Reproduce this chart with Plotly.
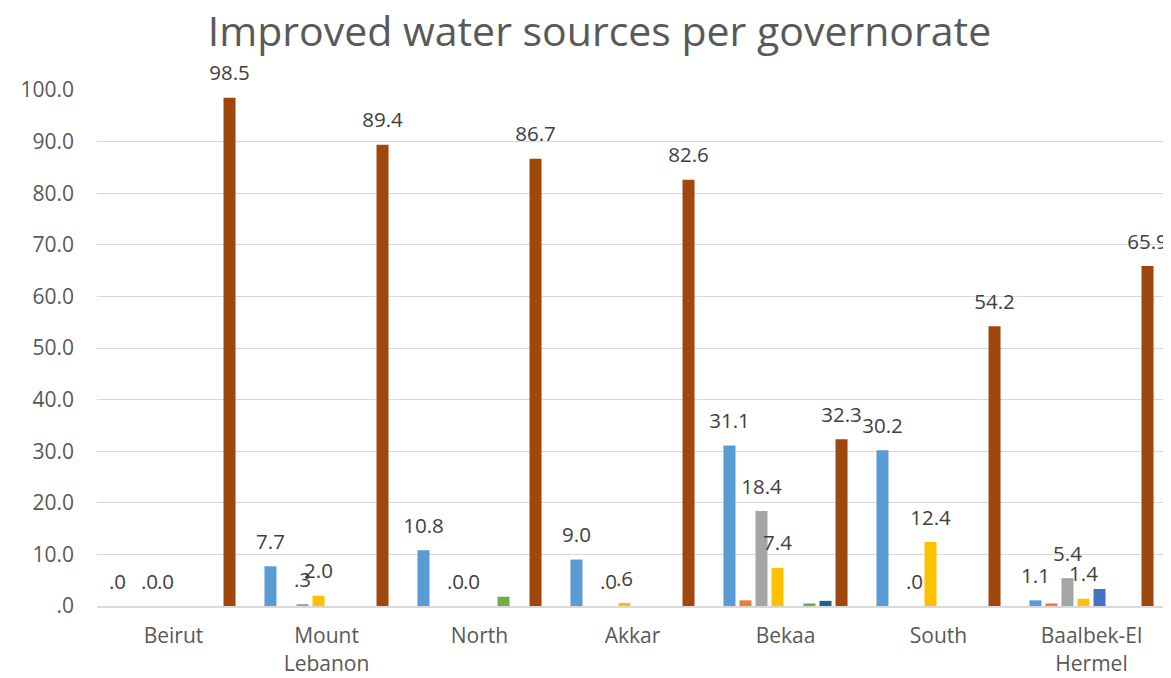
import plotly.graph_objects as go

governorates = ["Beirut", "Mount<br>Lebanon", "North", "Akkar", "Bekaa", "South", "Baalbek-El<br>Hermel"]

series_names = ["Source 1", "Source 2", "Source 3", "Source 4", "Source 5", "Source 6", "Source 7", "Source 8"]
s1 = [0.0, 7.7, 10.8, 9.0, 31.1, 30.2, 1.1]
s2 = [None, None, None, None, 1.1, None, 0.5]
s3 = [0.0, 0.3, 0.0, 0.0, 18.4, 0.0, 5.4]
s4 = [0.0, 2.0, 0.0, 0.6, 7.4, 12.4, 1.4]
s5 = [None, None, None, None, None, None, 3.3]
s6 = [None, None, 1.8, None, 0.5, None, None]
s7 = [None, None, None, None, 1.0, None, None]
s8 = [98.5, 89.4, 86.7, 82.6, 32.3, 54.2, 65.9]

series = [s1, s2, s3, s4, s5, s6, s7, s8]
labeled = [True, False, True, True, False, False, False, True]
colors = ["#5B9BD5", "#ED7D31", "#A5A5A5", "#FFC000", "#4472C4", "#70AD47", "#255E91", "#9E480E"]

FONT = "Open Sans"
BARGAP = 0.163


def fmt(v):
    if v is None:
        return None
    s = f"{v:.1f}"
    if s.startswith("0"):
        s = s[1:]
    return s


fig = go.Figure()
for i, (name, vals, col) in enumerate(zip(series_names, series, colors)):
    fig.add_trace(go.Bar(
        x=governorates, y=vals, name=name,
        marker=dict(color=col, line=dict(width=0)),
        offsetgroup=str(i),
        hoverinfo="x+y+name",
    ))

# data labels drawn as grouped scatter text so they sit over each bar
for i, (name, vals, lab) in enumerate(zip(series_names, series, labeled)):
    fig.add_trace(go.Scatter(
        x=governorates, y=vals, name=name,
        mode="markers+text",
        marker=dict(size=18, opacity=0, color="white"),
        text=[fmt(v) for v in vals] if lab else None,
        textposition="top center",
        textfont=dict(size=20.5, color="#404040", family=FONT),
        offsetgroup=str(i),
        cliponaxis=False,
        hoverinfo="skip",
    ))

tickvals = list(range(0, 101, 10))
ticktext = [fmt(float(t)) for t in tickvals]

fig.update_layout(
    width=1163, height=670,
    barmode="group", bargap=BARGAP, bargroupgap=0.25,
    scattermode="group", scattergap=BARGAP,
    plot_bgcolor="white", paper_bgcolor="white",
    showlegend=False,
    margin=dict(l=89, r=3, t=82, b=72, autoexpand=False),
    font=dict(family=FONT, color="#595959"),
    title=dict(text="Improved water sources per governorate", x=0.5086, xanchor="center",
               y=0.965, yanchor="middle",
               font=dict(size=41, color="#595959", family=FONT)),
)
fig.update_yaxes(range=[0, 100], tickvals=tickvals, ticktext=ticktext,
                 showgrid=True, gridcolor="#D9D9D9", gridwidth=1, zeroline=False,
                 showline=False, ticks="", ticklabelstandoff=22, automargin=False,
                 tickfont=dict(size=21, color="#595959"))
fig.update_xaxes(showline=True, linecolor="#D9D9D9", linewidth=2, ticks="",
                 ticklabelstandoff=10, automargin=False,
                 tickfont=dict(size=21, color="#595959"))

fig.write_html("out.html")
